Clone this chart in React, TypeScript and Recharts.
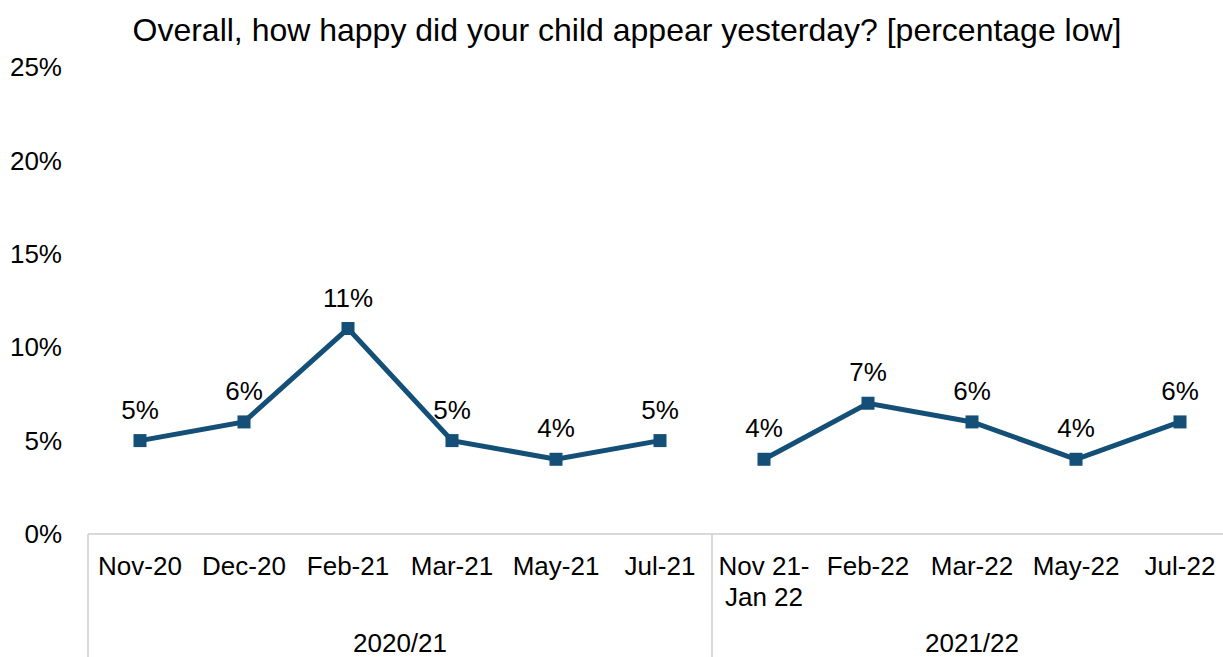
import React from "react";
import { LineChart, Line, XAxis, YAxis, LabelList } from "recharts";

const categories: string[] = [
  "Nov-20",
  "Dec-20",
  "Feb-21",
  "Mar-21",
  "May-21",
  "Jul-21",
  "Nov 21-\nJan 22",
  "Feb-22",
  "Mar-22",
  "May-22",
  "Jul-22",
];
const groupOf: string[] = [
  "2020/21", "2020/21", "2020/21", "2020/21", "2020/21", "2020/21",
  "2021/22", "2021/22", "2021/22", "2021/22", "2021/22",
];
const values2021: number[] = [5, 6, 11, 5, 4, 5];
const values2122: number[] = [4, 7, 6, 4, 6];
const yTicks: number[] = [0, 5, 10, 15, 20, 25];

const title = "Overall, how happy did your child appear yesterday? [percentage low]";

const data = categories.map((cat, i) => ({
  cat,
  group: groupOf[i],
  y2021: i < values2021.length ? values2021[i] : null,
  y2122: i >= values2021.length ? values2122[i - values2021.length] : null,
}));

const COLOR = "#134f76";
const GRID = "#d9d9d9";
const FONT = "'Liberation Sans', Arial, sans-serif";

// first index of each group gets a separator on its left
const groupStarts = groupOf.map((g, i) => i === 0 || groupOf[i - 1] !== g);
const groupMembers = (i: number) =>
  groupOf.map((x, j) => (x === groupOf[i] ? j : -1)).filter((j) => j >= 0);

const MonthTick = (props: any) => {
  const { x, y, payload, width } = props;
  const i = payload.index;
  const half = payload.offset || width / categories.length / 2;
  const lines = String(payload.value).split("\n");
  const members = groupMembers(i);
  const first = members[0];
  const last = members[members.length - 1];
  const showGroup = i === Math.floor((first + last) / 2);
  const groupX = (first + last) % 2 === 0 ? x : x + half;
  return (
    <g>
      {lines.map((l, k) => (
        <text
          key={k}
          x={x}
          y={y + 35 + k * 31}
          textAnchor="middle"
          fontSize={26}
          fill="#000"
          fontFamily={FONT}
        >
          {l}
        </text>
      ))}
      {groupStarts[i] && (
        <line x1={x - half} x2={x - half} y1={y - 6} y2={y + 130} stroke={GRID} strokeWidth={2} />
      )}
      {i === last && (
        <line x1={x + half} x2={x + half} y1={y - 6} y2={y + 130} stroke={GRID} strokeWidth={2} />
      )}
      {showGroup && (
        <text x={groupX} y={y + 112} textAnchor="middle" fontSize={26} fill="#000" fontFamily={FONT}>
          {groupOf[i]}
        </text>
      )}
    </g>
  );
};

const SquareDot = (props: any) => {
  const { cx, cy, index, value } = props;
  if (value == null || cx == null || cy == null) return <g key={`d-${index}`} />;
  return <rect key={`d-${index}`} x={cx - 6.5} y={cy - 6.5} width={13} height={13} fill={COLOR} />;
};

const App: React.FC = () => {
  return (
    <div
      style={{
        position: "absolute",
        left: 0,
        top: 0,
        width: 1223,
        height: 657,
        overflow: "hidden",
        background: "#fff",
        fontFamily: FONT,
      }}
    >
      <div
        style={{
          position: "absolute",
          left: 627,
          top: 12,
          transform: "translateX(-50%)",
          whiteSpace: "nowrap",
          fontSize: 32,
          color: "#000",
        }}
      >
        {title}
      </div>
      <LineChart
        width={1240}
        height={657}
        data={data}
        margin={{ top: 67, right: 8, left: 0, bottom: 0 }}
      >
        <XAxis
          dataKey="cat"
          scale="band"
          interval={0}
          height={123}
          tickLine={false}
          tickMargin={0}
          axisLine={{ stroke: GRID, strokeWidth: 2 }}
          tick={<MonthTick />}
        />
        <YAxis
          domain={[0, 25]}
          ticks={yTicks}
          width={88}
          axisLine={false}
          tickLine={false}
          tickMargin={20}
          tickFormatter={(v: number) => `${v}%`}
          tick={{ fill: "#000", fontSize: 26, fontFamily: FONT }}
        />
        <Line
          dataKey="y2021"
          stroke={COLOR}
          strokeWidth={5}
          dot={<SquareDot />}
          activeDot={false}
          isAnimationActive={false}
        >
          <LabelList
            dataKey="y2021"
            position="top"
            offset={22}
            formatter={(v: any) => (v == null ? "" : `${v}%`)}
            style={{ fill: "#000", fontSize: 26, fontFamily: FONT }}
          />
        </Line>
        <Line
          dataKey="y2122"
          stroke={COLOR}
          strokeWidth={5}
          dot={<SquareDot />}
          activeDot={false}
          isAnimationActive={false}
        >
          <LabelList
            dataKey="y2122"
            position="top"
            offset={22}
            formatter={(v: any) => (v == null ? "" : `${v}%`)}
            style={{ fill: "#000", fontSize: 26, fontFamily: FONT }}
          />
        </Line>
      </LineChart>
    </div>
  );
};

export default App;
